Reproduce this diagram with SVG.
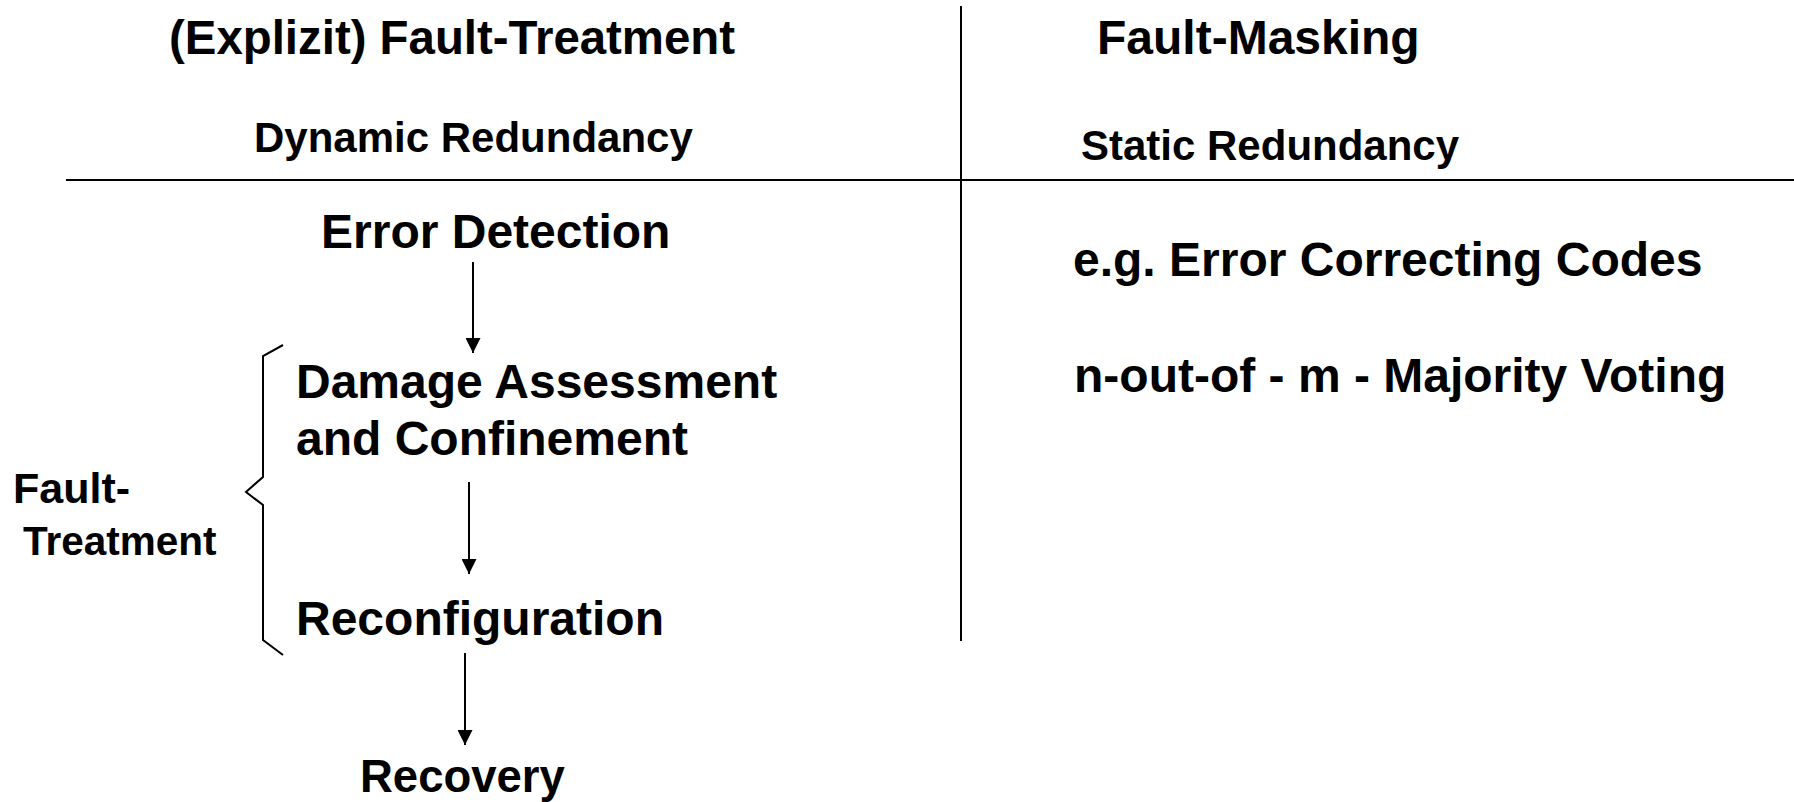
<svg xmlns="http://www.w3.org/2000/svg" width="1794" height="802" viewBox="0 0 1794 802">
<style>
text{font-family:"Liberation Sans",Arial,sans-serif;font-weight:bold;fill:#000}
.big{font-size:48px}
.mid{font-size:42px}
.sm{font-size:42px}
.ln{stroke:#000;stroke-width:2;fill:none}
</style>
<defs>
<marker id="ah" viewBox="0 0 10 10" refX="10" refY="5" markerWidth="7.5" markerHeight="7.5" markerUnits="strokeWidth" orient="auto">
<path d="M0,0 L10,5 L0,10 z" fill="#000"/>
</marker>
</defs>
<rect width="1794" height="802" fill="#fff"/>
<g id="grid">
<line class="ln" x1="961" y1="6" x2="961" y2="641"/>
<line class="ln" x1="66" y1="180" x2="1794" y2="180"/>
</g>
<g id="headers">
<text id="t-treat" class="big" x="169" y="54" style="font-size:47.4px">(Explizit) Fault-Treatment</text>
<text id="t-dyn" class="mid" x="254" y="152">Dynamic Redundancy</text>
<text id="t-mask" class="big" x="1097" y="54">Fault-Masking</text>
<text id="t-stat" class="mid" x="1081" y="160">Static Redundancy</text>
</g>
<g id="n-detect"><text class="big" x="321" y="248">Error Detection</text></g>
<g id="n-damage"><text class="big" x="296" y="398">Damage Assessment</text><text class="big" x="296" y="455">and Confinement</text></g>
<g id="n-reconf"><text class="big" x="296" y="635">Reconfiguration</text></g>
<g id="n-recov"><text class="big" x="360" y="792" style="font-size:45.5px">Recovery</text></g>
<g id="n-ecc"><text class="big" x="1073" y="276">e.g. Error Correcting Codes</text></g>
<g id="n-vote"><text class="big" x="1074" y="392">n-out-of - m - Majority Voting</text></g>
<g id="n-ft">
<text class="sm" x="13" y="503" style="font-size:43px">Fault-</text>
<text class="sm" x="23" y="555" style="font-size:40.5px">Treatment</text>
<path class="ln" d="M283,345 L263,356 L263,477 L246,492 L263,505 L263,640 L283,655"/>
</g>
<g id="connectors">
<line class="ln" x1="473" y1="262" x2="473" y2="353" marker-end="url(#ah)"/>
<line class="ln" x1="469" y1="482" x2="469" y2="574" marker-end="url(#ah)"/>
<line class="ln" x1="465" y1="653" x2="465" y2="745" marker-end="url(#ah)"/>
</g>
</svg>
